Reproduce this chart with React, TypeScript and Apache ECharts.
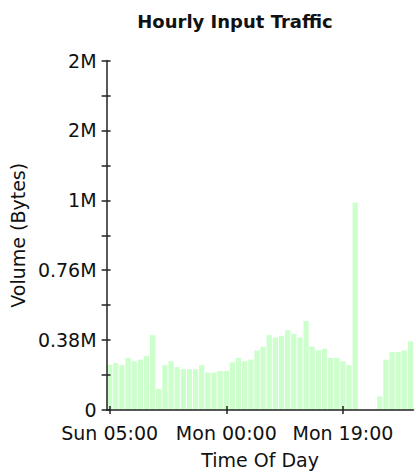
import React, { useEffect, useRef } from "react";
import * as echarts from "echarts";

const hours: string[] = [
  "Sun 05:00", "Sun 06:00", "Sun 07:00", "Sun 08:00", "Sun 09:00", "Sun 10:00",
  "Sun 11:00", "Sun 12:00", "Sun 13:00", "Sun 14:00", "Sun 15:00", "Sun 16:00",
  "Sun 17:00", "Sun 18:00", "Sun 19:00", "Sun 20:00", "Sun 21:00", "Sun 22:00",
  "Sun 23:00", "Mon 00:00", "Mon 01:00", "Mon 02:00", "Mon 03:00", "Mon 04:00",
  "Mon 05:00", "Mon 06:00", "Mon 07:00", "Mon 08:00", "Mon 09:00", "Mon 10:00",
  "Mon 11:00", "Mon 12:00", "Mon 13:00", "Mon 14:00", "Mon 15:00", "Mon 16:00",
  "Mon 17:00", "Mon 18:00", "Mon 19:00", "Mon 20:00", "Mon 21:00", "Mon 22:00",
  "Mon 23:00", "Tue 00:00", "Tue 01:00", "Tue 02:00", "Tue 03:00", "Tue 04:00",
  "Tue 05:00", "Tue 06:00",
];

const inputBytes: (number | null)[] = [
  246000, 255000, 244000, 283000, 265000, 274000, 294000, 407000, 115000, 244000,
  265000, 233000, 222000, 222000, 222000, 244000, 204000, 204000, 212000, 212000,
  259000, 283000, 265000, 274000, 324000, 344000, 407000, 394000, 403000, 434000,
  414000, 394000, 484000, 344000, 324000, 333000, 283000, 283000, 265000, 244000,
  1128000, null, null, null, 74000, 274000, 315000, 315000, 324000, 373000,
];

const yMin = 0;
const yMax = 1900000;
const yStep = 380000;

const FONT = "DejaVu Sans";
const TXT = "#111";

function fmtBytes(v: number): string {
  if (v === 0) return "0";
  if (v < 1e6) return (v / 1e6).toFixed(2) + "M";
  return Math.round(v / 1e6) + "M";
}

export default function App() {
  const ref = useRef<HTMLDivElement>(null);
  useEffect(() => {
    const chart = echarts.init(ref.current!, null, { renderer: "svg" });
    const lineStyle = { color: "#222", width: 1.5 };
    chart.setOption({
      animation: false,
      backgroundColor: "#fff",
      title: {
        text: "Hourly Input Traffic",
        left: 230,
        top: 7,
        textAlign: "center",
        textStyle: { fontFamily: FONT, fontWeight: "bold", fontSize: 18, color: TXT },
      },
      grid: { left: 106, right: 2.5, top: 60.5, bottom: 66, containLabel: false },
      xAxis: [
        {
          type: "category",
          data: hours,
          boundaryGap: true,
          z: 5,
          name: "Time Of Day",
          nameLocation: "middle",
          nameGap: 40,
          nameTextStyle: { fontFamily: FONT, fontSize: 19, color: TXT },
          axisLine: { show: true, lineStyle },
          axisTick: { show: true, alignWithLabel: true, interval: 18, length: 4, lineStyle },
          axisLabel: { interval: 18, margin: 13, fontFamily: FONT, fontSize: 19, color: TXT },
          splitLine: { show: false },
        },
        {
          type: "category",
          data: hours,
          boundaryGap: true,
          position: "bottom",
          offset: 0,
          z: 5,
          axisLine: { show: false },
          axisTick: { show: true, inside: true, alignWithLabel: true, interval: 18, length: 4, lineStyle },
          axisLabel: { show: false },
          splitLine: { show: false },
        },
      ],
      yAxis: [
        {
          type: "value",
          min: yMin,
          max: yMax,
          interval: yStep,
          z: 5,
          name: "Volume (Bytes)",
          nameLocation: "middle",
          nameGap: 70,
          nameTextStyle: { fontFamily: FONT, fontSize: 19, color: TXT },
          axisLine: { show: true, lineStyle },
          axisTick: { show: true, length: 5, lineStyle },
          minorTick: { show: true, splitNumber: 2, length: 5, lineStyle },
          axisLabel: {
            margin: 10,
            fontFamily: FONT,
            fontSize: 19,
            color: TXT,
            formatter: (v: number) => fmtBytes(v),
          },
          splitLine: { show: false },
          minorSplitLine: { show: false },
        },
        {
          type: "value",
          min: yMin,
          max: yMax,
          interval: yStep,
          position: "left",
          offset: 0,
          z: 5,
          axisLine: { show: false },
          axisTick: { show: true, inside: true, length: 4, lineStyle },
          minorTick: { show: true, splitNumber: 2, length: 4, lineStyle },
          axisLabel: { show: false },
          splitLine: { show: false },
          minorSplitLine: { show: false },
        },
      ],
      series: [
        {
          type: "bar",
          name: "Input",
          xAxisIndex: 0,
          yAxisIndex: 0,
          data: inputBytes,
          barWidth: "86%",
          itemStyle: { color: "#ccffcc" },
          z: 1,
        },
      ],
    });
    return () => chart.dispose();
  }, []);
  return (
    <div
      ref={ref}
      style={{ position: "fixed", left: 0, top: 0, width: 416, height: 476 }}
    />
  );
}
